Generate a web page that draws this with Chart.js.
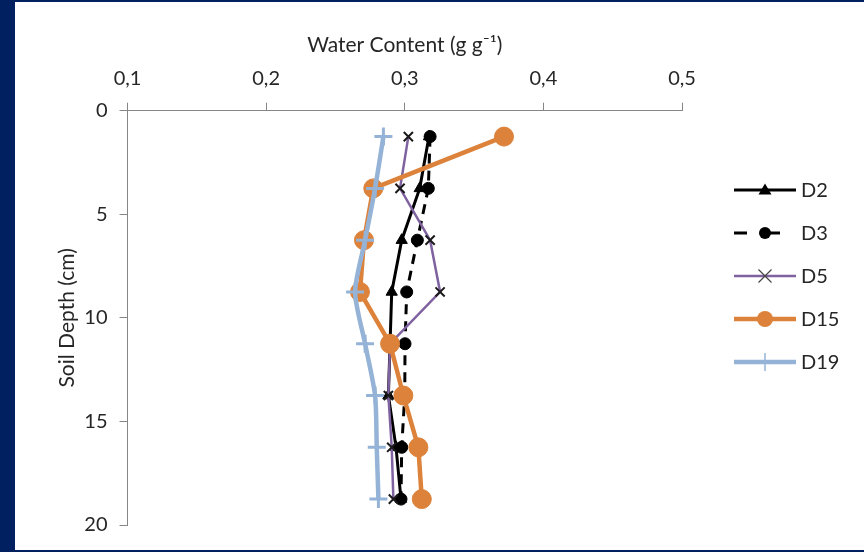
<!DOCTYPE html>
<html>
<head>
<meta charset="utf-8">
<script src="https://cdn.jsdelivr.net/npm/chart.js@4.4.1/dist/chart.umd.min.js"></script>
<style>
  html, body { margin: 0; padding: 0; background: #002060; width: 864px; height: 552px; overflow: hidden; }
  #marco { position: absolute; left: 15px; top: 2px; width: 849px; height: 548px; background: #fff; }
</style>
</head>
<body>
<div id="marco"><canvas id="chartHumedad" width="849" height="548"></canvas></div>
<script>
// Perfil de humedad del suelo por profundidad
const profundidades = [1.25, 3.75, 6.25, 8.75, 11.25, 13.75, 16.25, 18.75];
const series = ['D2', 'D3', 'D5', 'D15', 'D19'];
const valoresD2  = [0.3175, 0.3108, 0.2978, 0.2906, 0.2894, 0.2882, 0.2937, 0.2973];
const valoresD3  = [0.3183, 0.3170, 0.3091, 0.3014, 0.3002, 0.3000, 0.2978, 0.2973];
const valoresD5  = [0.3026, 0.2966, 0.3183, 0.3255, 0.2894, 0.2882, 0.2906, 0.2918];
const valoresD15 = [0.3716, 0.2773, 0.2706, 0.2677, 0.2894, 0.2990, 0.3098, 0.3123];
const valoresD19 = [0.2846, 0.2786, 0.2714, 0.2642, 0.2714, 0.2786, 0.2798, 0.2810];
const ticksX = [0.1, 0.2, 0.3, 0.4, 0.5];
const ticksY = [0, 5, 10, 15, 20];

const fuente = 'Lato, "Open Sans", sans-serif';
const gris = '#868686';
const texto = '#262626';

function puntos(valores) {
    return valores.map((v, i) => ({ x: v, y: profundidades[i] }));
}

const estilos = {
    D2:  { color: '#000000', ancho: 3,   dash: [],      marca: 'triangle', radio: 6.5, relleno: '#000000', borde: '#000000', bordeMarca: 1 },
    D3:  { color: '#000000', ancho: 3,   dash: [10, 7], marca: 'circle',   radio: 6,   relleno: '#000000', borde: '#000000', bordeMarca: 1 },
    D5:  { color: '#7F62A0', ancho: 2.5, dash: [],      marca: 'crossRot', radio: 6.5, relleno: '#000000', borde: '#1a1a1a', bordeMarca: 2 },
    D15: { color: '#DC823A', ancho: 4.5, dash: [],      marca: 'circle',   radio: 9.5, relleno: '#DC823A', borde: '#DC823A', bordeMarca: 1 },
    D19: { color: '#95B3D7', ancho: 4.5, dash: [],      marca: 'cross',    radio: 9,   relleno: '#95B3D7', borde: '#95B3D7', bordeMarca: 3 }
};
const valores = { D2: valoresD2, D3: valoresD3, D5: valoresD5, D15: valoresD15, D19: valoresD19 };

const datasets = series.map((nombre, i) => {
    const e = estilos[nombre];
    return {
        label: nombre,
        data: puntos(valores[nombre]),
        showLine: true,
        borderColor: e.color,
        borderWidth: e.ancho,
        borderDash: e.dash,
        tension: nombre === 'D19' ? 0.25 : 0,
        pointStyle: e.marca,
        pointRadius: e.radio,
        pointHoverRadius: e.radio,
        pointBackgroundColor: e.relleno,
        pointBorderColor: e.borde,
        pointBorderWidth: e.bordeMarca,
        order: series.length - i
    };
});

// Leyenda estilo Excel: línea con marcador en el medio
const leyendaExcel = {
    id: 'leyendaExcel',
    afterDraw(chart) {
        const ctx = chart.ctx;
        const x1 = 719, x2 = 781, xm = 750, xt = 786;
        const y0 = 188, paso = 43;
        series.forEach((nombre, i) => {
            const e = estilos[nombre];
            const y = y0 + i * paso;
            ctx.save();
            ctx.strokeStyle = e.color;
            ctx.lineWidth = e.ancho;
            ctx.setLineDash(nombre === 'D3' ? [13, 20] : []);
            ctx.beginPath();
            ctx.moveTo(x1, y);
            ctx.lineTo(x2, y);
            ctx.stroke();
            ctx.setLineDash([]);
            const r = nombre === 'D15' ? 8 : e.radio;
            ctx.fillStyle = e.relleno;
            ctx.strokeStyle = e.borde;
            if (e.marca === 'circle') {
                ctx.beginPath(); ctx.arc(xm, y, r, 0, Math.PI * 2); ctx.fill();
            } else if (e.marca === 'triangle') {
                ctx.beginPath();
                ctx.moveTo(xm, y - r); ctx.lineTo(xm + r, y + r * 0.7); ctx.lineTo(xm - r, y + r * 0.7);
                ctx.closePath(); ctx.fill();
            } else if (e.marca === 'crossRot') {
                ctx.lineWidth = 1.2; ctx.strokeStyle = '#444';
                ctx.beginPath();
                ctx.moveTo(xm - r, y - r); ctx.lineTo(xm + r, y + r);
                ctx.moveTo(xm + r, y - r); ctx.lineTo(xm - r, y + r);
                ctx.stroke();
            } else if (e.marca === 'cross') {
                ctx.lineWidth = 1.5;
                ctx.beginPath(); ctx.moveTo(xm, y - r); ctx.lineTo(xm, y + r); ctx.stroke();
            }
            ctx.fillStyle = texto;
            ctx.font = '20px ' + fuente;
            ctx.textAlign = 'left';
            ctx.textBaseline = 'middle';
            ctx.fillText(nombre, xt, y + 1);
            ctx.restore();
        });
    }
};

new Chart(document.getElementById('chartHumedad').getContext('2d'), {
    type: 'scatter',
    data: { datasets },
    options: {
        responsive: false,
        animation: false,
        layout: { padding: { top: 0, left: 0, right: 182, bottom: 25 } },
        plugins: { legend: { display: false }, tooltip: { enabled: false } },
        scales: {
            x: {
                type: 'linear',
                position: 'top',
                min: ticksX[0],
                max: ticksX[ticksX.length - 1],
                afterBuildTicks: s => { s.ticks = ticksX.map(v => ({ value: v })); },
                afterFit: s => { s.height = 108.7; },
                ticks: {
                    color: texto,
                    font: { family: fuente, size: 20 },
                    padding: 12,
                    callback: v => v.toFixed(1).replace('.', ',')
                },
                grid: { drawOnChartArea: false, color: gris, tickLength: 8, tickColor: gris },
                border: { color: gris, width: 1 },
                title: {
                    display: true,
                    text: 'Water Content (g g\u207B\u00B9)',
                    color: texto,
                    font: { family: fuente, size: 21 },
                    padding: { top: 31, bottom: 0 }
                }
            },
            y: {
                type: 'linear',
                reverse: true,
                min: ticksY[0],
                max: ticksY[ticksY.length - 1],
                afterBuildTicks: s => { s.ticks = ticksY.map(v => ({ value: v })); },
                afterFit: s => { s.width = 112.5; },
                ticks: {
                    color: texto,
                    font: { family: fuente, size: 20 },
                    padding: 12
                },
                grid: { drawOnChartArea: false, color: gris, tickLength: 8, tickColor: gris },
                border: { color: gris, width: 1 },
                title: {
                    display: true,
                    text: 'Soil Depth (cm)',
                    color: texto,
                    font: { family: fuente, size: 21 },
                    padding: { top: 40, bottom: 0 }
                }
            }
        }
    },
    plugins: [leyendaExcel]
});
</script>
</body>
</html>
